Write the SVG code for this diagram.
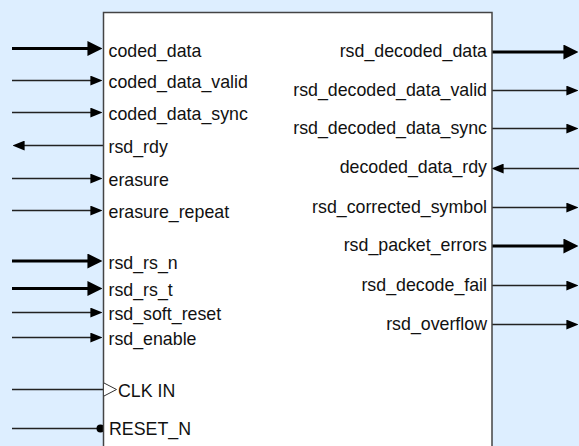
<svg xmlns="http://www.w3.org/2000/svg" width="579" height="446" viewBox="0 0 579 446">
<style>
.lbl{font-family:"Liberation Sans",Arial,Helvetica,sans-serif;font-size:17.8px;fill:#111}
.r{text-anchor:end}
.thin{stroke:#222;stroke-width:1.3;fill:none}
.thick{stroke:#000;stroke-width:3;fill:none}
</style>
<defs>
<marker id="hThin" markerUnits="userSpaceOnUse" markerWidth="12" markerHeight="10" viewBox="0 0 11 9" refX="7" refY="4.5" orient="auto">
<path d="M0,0 L11,4.5 L0,9 z" fill="#000"/>
</marker>
<marker id="hThick" markerUnits="userSpaceOnUse" markerWidth="15" markerHeight="15" viewBox="0 0 14 14" refX="8" refY="7" orient="auto">
<path d="M0,0 L14,7 L0,14 z" fill="#000"/>
</marker>
</defs>
<rect x="0" y="0" width="579" height="446" fill="#ddeeff"/>
<g id="connectors">
<line class="thick" x1="12" y1="48.5" x2="96" y2="48.5" marker-end="url(#hThick)"/>
<line class="thin" x1="12" y1="80.5" x2="98" y2="80.5" marker-end="url(#hThin)"/>
<line class="thin" x1="12" y1="112.5" x2="98" y2="112.5" marker-end="url(#hThin)"/>
<line class="thin" x1="103" y1="145.5" x2="17" y2="145.5" marker-end="url(#hThin)"/>
<line class="thin" x1="12" y1="178.5" x2="98" y2="178.5" marker-end="url(#hThin)"/>
<line class="thin" x1="12" y1="210.5" x2="98" y2="210.5" marker-end="url(#hThin)"/>
<line class="thick" x1="12" y1="261" x2="96" y2="261" marker-end="url(#hThick)"/>
<line class="thick" x1="12" y1="288.5" x2="96" y2="288.5" marker-end="url(#hThick)"/>
<line class="thin" x1="12" y1="312.5" x2="98" y2="312.5" marker-end="url(#hThin)"/>
<line class="thin" x1="12" y1="337.5" x2="98" y2="337.5" marker-end="url(#hThin)"/>
<line class="thin" x1="12" y1="389.5" x2="103" y2="389.5" stroke="#555"/>
<line class="thin" x1="12" y1="428.5" x2="98" y2="428.5"/>
<circle cx="100.5" cy="428.5" r="4" fill="#000"/>
<line class="thick" x1="492" y1="52" x2="572" y2="52" marker-end="url(#hThick)"/>
<line class="thin" x1="492" y1="90.5" x2="574" y2="90.5" marker-end="url(#hThin)"/>
<line class="thin" x1="492" y1="128.5" x2="574" y2="128.5" marker-end="url(#hThin)"/>
<line class="thin" x1="579" y1="168.5" x2="496" y2="168.5" marker-end="url(#hThin)"/>
<line class="thin" x1="492" y1="207.5" x2="574" y2="207.5" marker-end="url(#hThin)"/>
<line class="thick" x1="492" y1="246" x2="572" y2="246" marker-end="url(#hThick)"/>
<line class="thin" x1="492" y1="285.5" x2="574" y2="285.5" marker-end="url(#hThin)"/>
<line class="thin" x1="492" y1="324.5" x2="574" y2="324.5" marker-end="url(#hThin)"/>
</g>
<g id="rsd_block">
<rect x="103.5" y="12.5" width="388.5" height="440" fill="#fff" stroke="#444" stroke-width="1.5"/>
<path d="M104,383 L116.5,389.5 L104,396" fill="#fff" stroke="#333" stroke-width="1"/>
<text class="lbl" x="108.5" y="56.5">coded_data</text>
<text class="lbl" x="108.5" y="87.5">coded_data_valid</text>
<text class="lbl" x="108.5" y="120">coded_data_sync</text>
<text class="lbl" x="108.5" y="152.5">rsd_rdy</text>
<text class="lbl" x="108.5" y="185.5">erasure</text>
<text class="lbl" x="108.5" y="217.5">erasure_repeat</text>
<text class="lbl" x="108.5" y="268.5">rsd_rs_n</text>
<text class="lbl" x="108.5" y="296">rsd_rs_t</text>
<text class="lbl" x="108.5" y="319.5">rsd_soft_reset</text>
<text class="lbl" x="108.5" y="345">rsd_enable</text>
<text class="lbl" x="118" y="397">CLK IN</text>
<text class="lbl" x="109" y="434.5">RESET_N</text>
<text class="lbl r" x="487" y="57">rsd_decoded_data</text>
<text class="lbl r" x="487" y="95.5">rsd_decoded_data_valid</text>
<text class="lbl r" x="487" y="133.5">rsd_decoded_data_sync</text>
<text class="lbl r" x="487" y="172.5">decoded_data_rdy</text>
<text class="lbl r" x="487" y="212.5">rsd_corrected_symbol</text>
<text class="lbl r" x="487" y="251">rsd_packet_errors</text>
<text class="lbl r" x="487" y="290.5">rsd_decode_fail</text>
<text class="lbl r" x="487" y="329.5">rsd_overflow</text>
</g>
</svg>
